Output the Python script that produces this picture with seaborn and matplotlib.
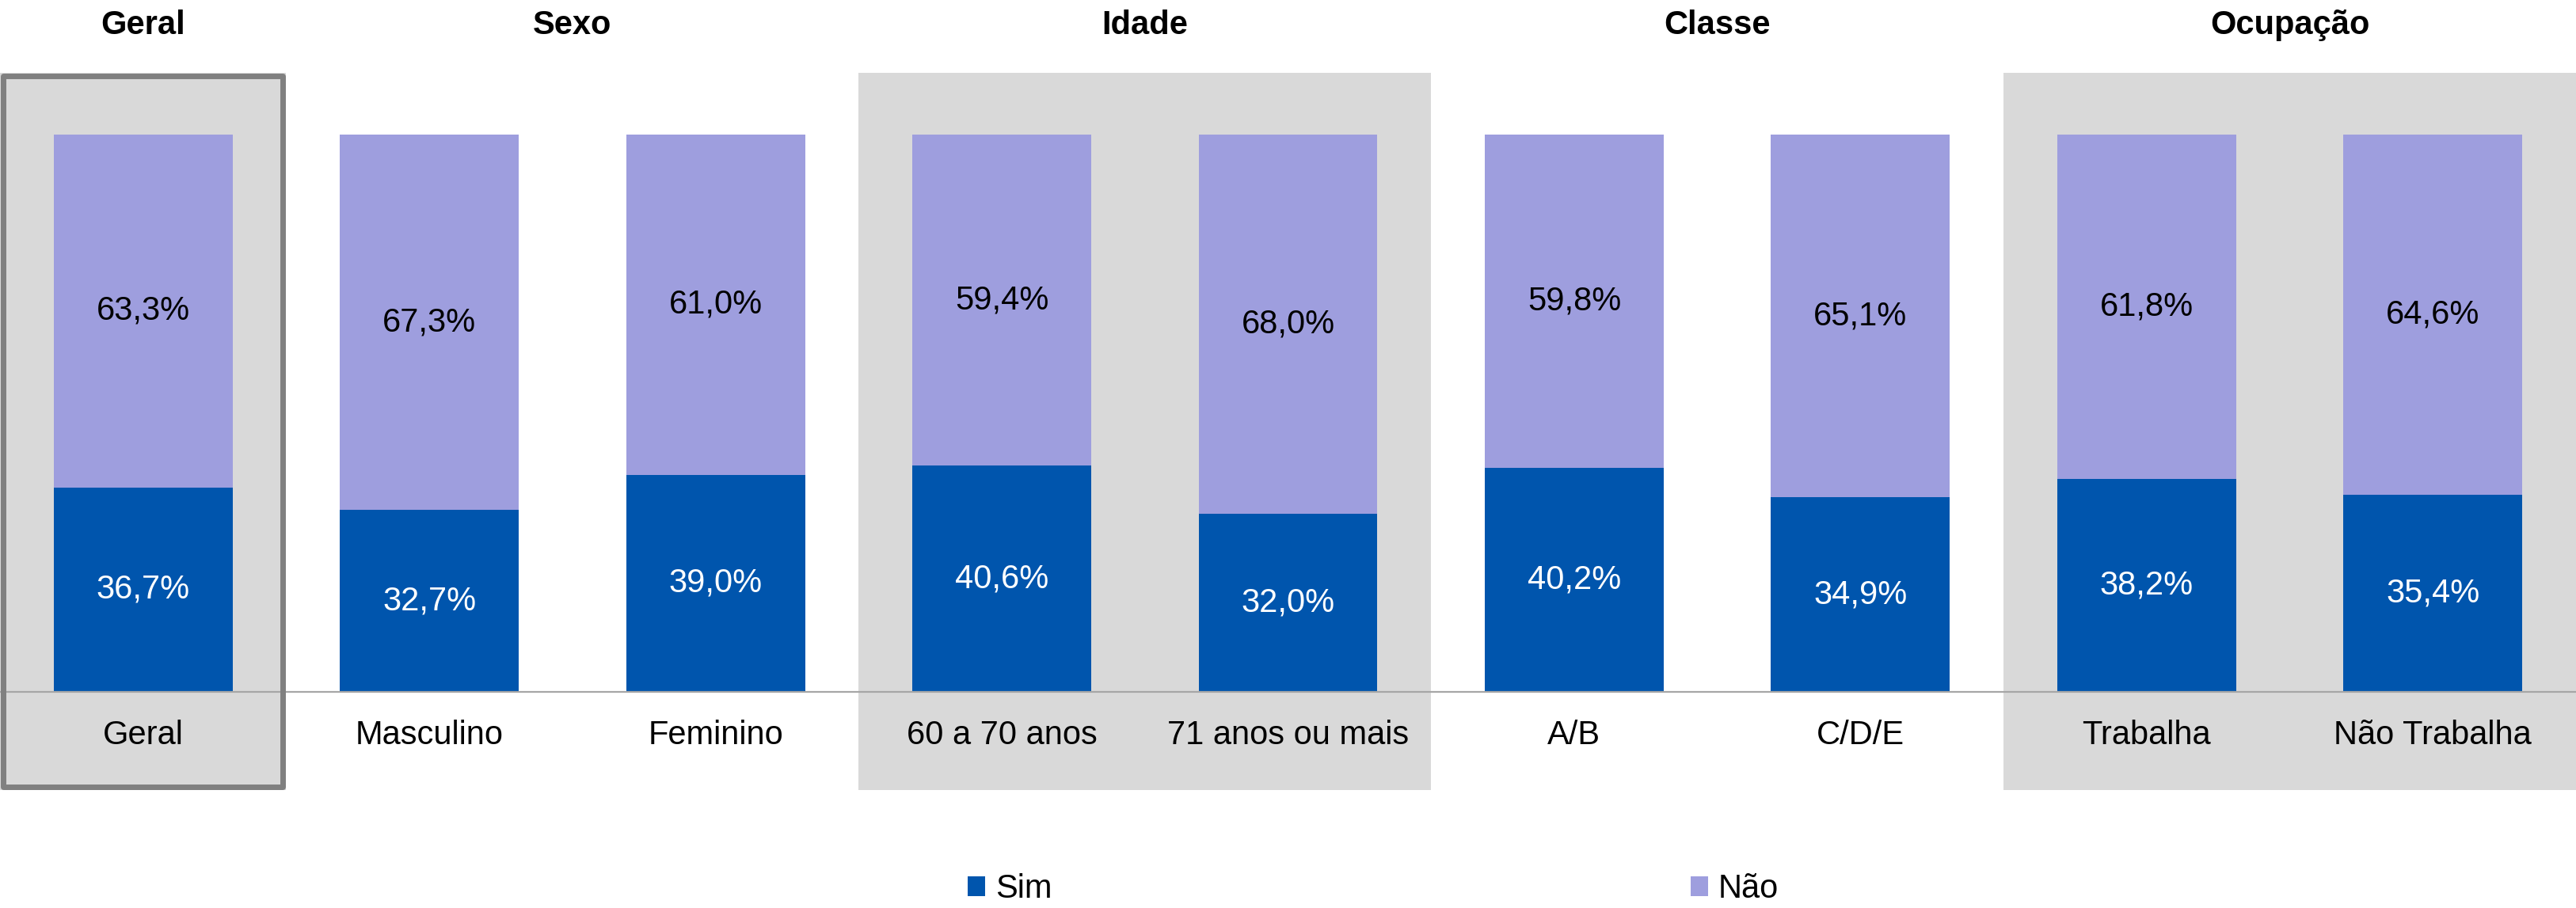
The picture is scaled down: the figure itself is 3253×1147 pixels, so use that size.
import numpy as np
import pandas as pd
import seaborn as sns
import matplotlib.pyplot as plt
from matplotlib.patches import Rectangle, Patch

categorias = ['Geral', 'Masculino', 'Feminino', '60 a 70 anos', '71 anos ou mais',
              'A/B', 'C/D/E', 'Trabalha', 'Não Trabalha']
sim = [36.7, 32.7, 39.0, 40.6, 32.0, 40.2, 34.9, 38.2, 35.4]
nao = [63.3, 67.3, 61.0, 59.4, 68.0, 59.8, 65.1, 61.8, 64.6]

grupos = ['Geral', 'Sexo', 'Idade', 'Classe', 'Ocupação']
grupo_inicio = [0, 1, 3, 5, 7]
grupo_fim = [0, 2, 4, 6, 8]
grupos_sombreados = ['Geral', 'Idade', 'Ocupação']

cor_sim = '#0055AD'
cor_nao = '#9E9EDE'
cor_fundo = '#D9D9D9'

sns.set_style('white')
plt.rcParams['font.family'] = ['Liberation Sans', 'DejaVu Sans']
plt.rcParams['text.color'] = 'black'

df = pd.DataFrame({'categoria': categorias, 'Sim': sim, 'Não': nao})
df['total'] = df['Sim'] + df['Não']

fig = plt.figure(figsize=(16.265, 5.735), dpi=200)
ax = fig.add_axes([0, 1 - 998 / 1147, 1, (998 - 92) / 1147])

# shaded group backgrounds
for g, a, b in zip(grupos, grupo_inicio, grupo_fim):
    if g in grupos_sombreados:
        ax.axvspan(a - 0.5, b + 0.5, color=cor_fundo, lw=0, zorder=0)

sns.barplot(data=df, x='categoria', y='total', order=categorias, color=cor_nao,
            width=0.625, saturation=1, linewidth=0, ax=ax, zorder=2)
sns.barplot(data=df, x='categoria', y='Sim', order=categorias, color=cor_sim,
            width=0.625, saturation=1, linewidth=0, ax=ax, zorder=3)

for i, (s, n) in enumerate(zip(sim, nao)):
    ax.text(i, s / 2, f'{s:.1f}%'.replace('.', ','), ha='center', va='center',
            color='white', fontsize=15, zorder=4)
    ax.text(i, s + n / 2, f'{n:.1f}%'.replace('.', ','), ha='center', va='center',
            color='black', fontsize=15, zorder=4)

ax.set_xlim(-0.5, len(categorias) - 0.5)
ax.set_ylim(-17.6, 111.1)
ax.set_xlabel('')
ax.set_ylabel('')
ax.set_yticks([])

for s in ['top', 'left', 'right']:
    ax.spines[s].set_visible(False)
ax.spines['bottom'].set_position(('data', 0))
ax.spines['bottom'].set_color('#A6A6A6')
ax.spines['bottom'].set_linewidth(0.8)
ax.spines['bottom'].set_zorder(5)

ax.set_xticks(np.arange(-0.5, len(categorias), 1))
ax.set_xticklabels([])
ax.set_xticks(np.arange(len(categorias)), minor=True)
ax.set_xticklabels(categorias, minor=True)
ax.tick_params(axis='x', which='major', length=4.3, width=0.6, color='#A6A6A6',
               direction='out')
ax.tick_params(axis='x', which='minor', length=0, pad=12.5, labelsize=15,
               labelcolor='black')

# group titles
for g, a, b in zip(grupos, grupo_inicio, grupo_fim):
    ax.text((a + b) / 2, 1.054, g, transform=ax.get_xaxis_transform(),
            ha='center', va='baseline', fontsize=15, fontweight='bold', color='black')

# border around "Geral"
ax.add_patch(Rectangle((-0.5 + 0.012, 0.004), 1 - 0.024, 0.992,
                       transform=ax.get_xaxis_transform(), fill=False,
                       edgecolor='#808080', linewidth=2.5, clip_on=False,
                       zorder=6, joinstyle='round'))

handles = [Patch(facecolor=cor_sim, edgecolor='none', label='Sim'),
           Patch(facecolor=cor_nao, edgecolor='none', label='Não')]
leg = fig.legend(handles=handles, loc='center left',
                 bbox_to_anchor=(1222 / 3253, 1 - 1123 / 1147),
                 ncol=2, frameon=False, fontsize=15, handlelength=0.53, handleheight=0.53,
                 handletextpad=0.31, columnspacing=19.35, borderpad=0, borderaxespad=0)
for t in leg.get_texts():
    t.set_color('black')

fig.savefig('out.png', dpi=200)
